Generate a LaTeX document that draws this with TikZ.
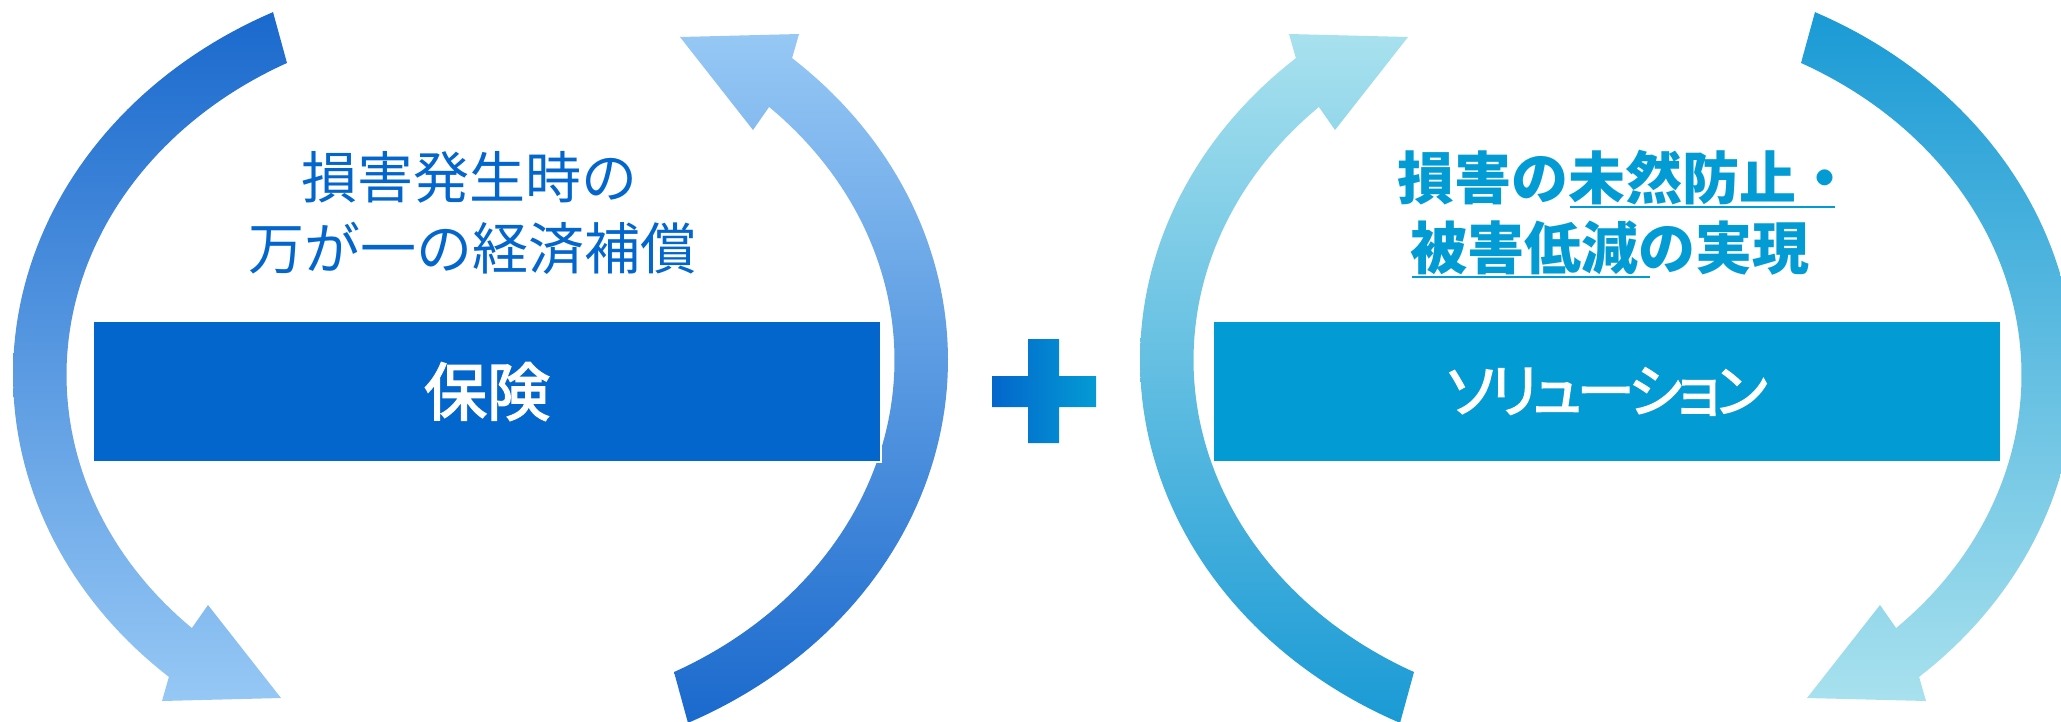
\documentclass[tikz,border=0pt]{standalone}
\usepackage{fontspec}
\newfontfamily\jp{Noto Sans CJK JP}
\newfontfamily\jpm{Noto Sans CJK JP}[FakeBold=2.5]
\newfontfamily\jpp{Noto Sans CJK JP}[RawFeature=+palt, LetterSpace=-8, FakeBold=2.5]
\definecolor{insblue}{RGB}{3,102,204}
\definecolor{solblue}{RGB}{3,155,212}
\definecolor{lcdark}{RGB}{26,105,205}
\definecolor{lclight}{RGB}{150,200,245}
\definecolor{rcdark}{RGB}{26,154,213}
\definecolor{rclight}{RGB}{168,225,238}
% #1 x sign, #2 x offset, #3 y sign, #4 y offset, #5 top colour, #6 bottom colour
\newcommand\cyclearc[6]{%
  \shade[top color=#5, bottom color=#6]
    ({#2+#1*287},{#4+#3*63}) -- ({#2+#1*273},{#4+#3*12})
    -- plot[domain=243.6:131.8, samples=80, variable=\t]
       ({#2+#1*(480.5+467.5*cos(\t))},{#4+#3*(375+405*sin(\t))})
    -- ({#2+#1*162},{#4+#3*701}) -- ({#2+#1*281},{#4+#3*698}) -- ({#2+#1*208},{#4+#3*605})
    -- plot[domain=134.2:242.1, samples=80, variable=\t]
       ({#2+#1*(480.5+414*cos(\t))},{#4+#3*(375+353*sin(\t))})
    -- cycle;}
\tikzset{
  boxstyle/.style={draw=white, line width=2pt, inner sep=0pt, anchor=north west,
    minimum width=788pt, minimum height=141pt, text=white},
  lhead/.style={inner sep=0pt, anchor=west, text=insblue, font=\jp\fontsize{56}{60}\selectfont},
  rhead/.style={inner sep=0pt, anchor=west, text=solblue, font=\jp\bfseries\fontsize{57}{60}\selectfont},
  uline/.style={draw=solblue, line width=2.5pt}
}
\begin{document}
\begin{tikzpicture}[x=1pt,y=-1pt]
\useasboundingbox (0,0) rectangle (2061,721);
\clip (0,0) rectangle (2061,721);
% left cycle
\cyclearc{1}{0}{1}{0}{lcdark}{lclight}
\cyclearc{-1}{961}{-1}{735}{lclight}{lcdark}
% right cycle (mirror)
\cyclearc{-1}{2088}{1}{0}{rcdark}{rclight}
\cyclearc{1}{1127}{-1}{735}{rclight}{rcdark}
% boxes
\node[boxstyle, fill=insblue, font=\jpm\fontsize{63}{70}\selectfont] (ins) at (92,320) {保険};
\node[boxstyle, fill=solblue, font=\jpp\fontsize{58}{66}\selectfont] (sol) at (1212,320) {ソリューション};
% plus
\shade[left color=insblue, right color=solblue]
  (1028,339) -- (1059,339) -- (1059,376) -- (1096,376) -- (1096,407) -- (1059,407)
  -- (1059,443) -- (1028,443) -- (1028,407) -- (992,407) -- (992,376) -- (1028,376) -- cycle;
% headings
\node[lhead] (l1) at (301,177) {損害発生時の};
\node[lhead] (l2) at (248,248) {万が一の経済補償};
\node[rhead] (r1) at (1397,177.5) {損害の未然防止・};
\node[rhead] (r2) at (1410,248) {被害低減の実現};
\draw[uline] (1570,207) -- (1835,207);
\draw[uline] (1412,277) -- (1650,277);
\end{tikzpicture}
\end{document}
